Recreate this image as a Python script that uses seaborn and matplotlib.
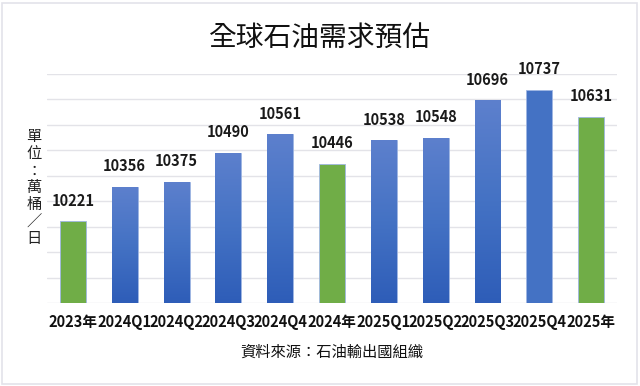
import matplotlib
matplotlib.use("Agg")
import matplotlib.pyplot as plt
import seaborn as sns
import numpy as np
import pandas as pd
from matplotlib.colors import LinearSegmentedColormap
from matplotlib.patches import Rectangle

categories = ["2023年", "2024Q1", "2024Q2", "2024Q3", "2024Q4", "2024年",
              "2025Q1", "2025Q2", "2025Q3", "2025Q4", "2025年"]
values = [10221, 10356, 10375, 10490, 10561, 10446, 10538, 10548, 10696, 10737, 10631]
kinds = ["年", "季", "季", "季", "季", "年", "季", "季", "季", "季solid", "年"]

title = "全球石油需求預估"
ylabel = "單位：萬桶／日"
source = "資料來源：石油輸出國組織"

sns.set_theme(style="white")
plt.rcParams['font.family'] = ['Noto Sans CJK TC', 'DejaVu Sans']

df = pd.DataFrame({"cat": categories, "val": values, "kind": kinds})
palette = {"年": "#70AD47", "季": "#4472C4", "季solid": "#4472C4"}

fig = plt.figure(figsize=(6.4, 3.86), dpi=100)
ax = fig.add_axes([47/640, 1-303/386, 570/640, (303-73.5)/386])

sns.barplot(data=df, x="cat", y="val", hue="kind", palette=palette, dodge=False,
            width=0.5, legend=False, ax=ax, saturation=1, order=categories,
            edgecolor="#9fb6e3", linewidth=0.6)

ax.set_ylim(9900, 10800)
ax.set_xlim(-0.5, 10.5)
ax.set_yticks(np.arange(9900, 10801, 100))
ax.set_yticklabels([])
ax.yaxis.grid(True, color="#e3e3e8", linewidth=1.0)
ax.set_axisbelow(True)
for s in ax.spines.values():
    s.set_visible(False)
ax.tick_params(axis="both", length=0)
ax.set_xlabel("")
ax.set_ylabel("")

# gradient for quarterly bars
cmap = LinearSegmentedColormap.from_list("g", ["#2e5db8", "#4472C4", "#5d80cd"])
grad = np.linspace(0, 1, 256).reshape(-1, 1)
for i, p in enumerate(ax.patches):
    if not isinstance(p, Rectangle) or p.get_height() == 0:
        continue
    xc = p.get_x() + p.get_width() / 2
    idx = int(round(xc))
    if 0 <= idx < len(kinds) and kinds[idx] == "季":
        x0, w = p.get_x(), p.get_width()
        y0, h = p.get_y(), p.get_height()
        im = ax.imshow(grad, extent=[x0, x0 + w, ax.get_ylim()[0], y0 + h], origin="lower",
                       cmap=cmap, aspect="auto", zorder=p.get_zorder() + 0.1)
        im.set_clip_path(p)
ax.set_xlim(-0.5, 10.5)
ax.set_ylim(9900, 10800)

for i, v in enumerate(values):
    ax.annotate(str(v), (i, v), xytext=(0, 9), textcoords="offset points",
                ha="center", va="bottom", fontsize=10.5, fontweight="bold",
                color="#1a1a1a", annotation_clip=False)

ax.set_xticks(range(len(categories)))
ax.set_xticklabels(categories, fontsize=10.5, fontweight="bold", color="#111111")
ax.tick_params(axis="x", pad=8)

fig.text(320/640, 1-38/386, title, ha="center", va="center", fontsize=20, color="#111111")
fig.text(34/640, 1-188/386, "\n".join(ylabel), ha="center", va="center",
         fontsize=11, linespacing=1.0, color="#222222")
fig.text(332/640, 1-352/386, source, ha="center", va="center", fontsize=11, color="#111111")

border = Rectangle((2/640, 2/386), 635/640, 381/386, transform=fig.transFigure,
                   fill=False, edgecolor="#e3e3ea", linewidth=1.2)
fig.patches.append(border)

fig.savefig("out.png", dpi=100)
